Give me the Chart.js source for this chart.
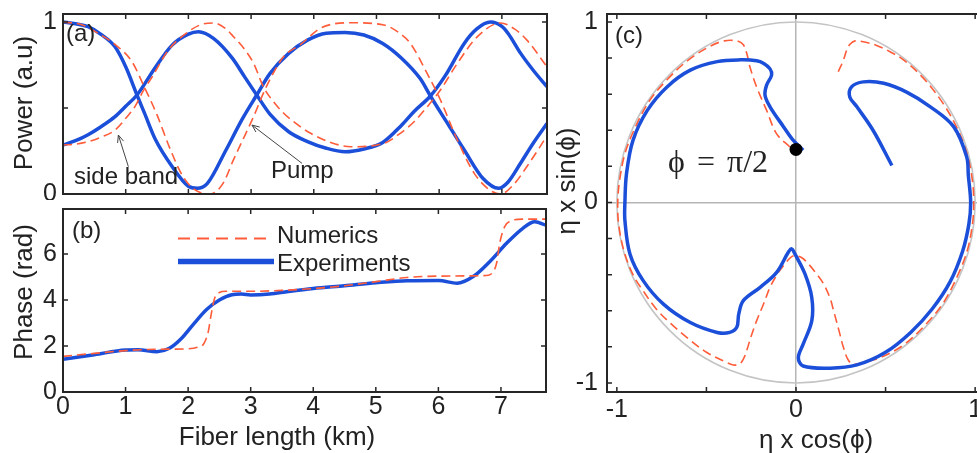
<!DOCTYPE html>
<html><head><meta charset="utf-8">
<script src="https://cdn.jsdelivr.net/npm/chart.js@4.4.1/dist/chart.umd.min.js"></script>
<style>
html,body{margin:0;padding:0;background:#fff;overflow:hidden;width:977px;height:453px;position:relative}
canvas{position:absolute}
#ca{left:0;top:0}
#cb{left:0;top:200px}
#cc{left:540px;top:0}
</style></head><body>
<canvas id="ca" width="560" height="200"></canvas>
<canvas id="cb" width="560" height="253"></canvas>
<canvas id="cc" width="460" height="453"></canvas>
<script>
// ---------- Panel (a): power vs fiber length ----------
const kmPumpExp = [0,0.2,0.4,0.6,0.83,1.0,1.18,1.3,1.47,1.74,2.0,2.14,2.3,2.6,2.85,3.09,3.3,3.6,3.9,4.2,4.5,4.8,5.1,5.4,5.7,5.86,6.1,6.4,6.7,6.95,7.1,7.3,7.5,7.72];
const pumpExp   = [1.0,0.99,0.973,0.93,0.856,0.74,0.576,0.47,0.32,0.16,0.045,0.033,0.06,0.256,0.43,0.576,0.70,0.818,0.895,0.935,0.94,0.925,0.876,0.79,0.67,0.57,0.43,0.256,0.09,0.033,0.07,0.18,0.295,0.41];
const kmSbExp = [0,0.2,0.4,0.6,0.83,1.0,1.18,1.47,1.74,2.0,2.16,2.4,2.7,2.9,3.09,3.3,3.6,3.9,4.2,4.5,4.8,5.1,5.4,5.6,5.86,6.1,6.4,6.6,6.82,7.0,7.1,7.3,7.5,7.72];
const sbExp   = [0.285,0.31,0.345,0.39,0.45,0.51,0.576,0.735,0.866,0.93,0.944,0.905,0.79,0.68,0.576,0.465,0.362,0.305,0.266,0.246,0.262,0.30,0.40,0.48,0.57,0.69,0.876,0.96,1.0,0.975,0.934,0.818,0.72,0.624];
const kmPumpNum = [0,0.3,0.56,0.83,1.1,1.3,1.5,1.7,1.9,2.1,2.35,2.55,2.72,2.9,3.04,3.2,3.35,3.52,3.79,4.11,4.59,5.12,5.35,5.54,5.81,6.02,6.29,6.56,6.8,6.98,7.2,7.4,7.6,7.72];
const pumpNum   = [1.0,0.985,0.934,0.87,0.77,0.62,0.46,0.27,0.11,0.025,0.0,0.06,0.2,0.34,0.45,0.59,0.7,0.8,0.87,0.965,0.996,0.983,0.94,0.876,0.70,0.547,0.314,0.12,0.025,0.0,0.06,0.16,0.27,0.34];
const kmSbNum = [0,0.2,0.4,0.6,0.83,1.0,1.15,1.28,1.42,1.68,2.0,2.2,2.4,2.6,2.72,2.9,3.04,3.2,3.35,3.52,3.79,3.95,4.27,4.59,5.12,5.38,5.6,5.81,6.02,6.29,6.61,6.98,7.2,7.4,7.72];
const sbNum   = [0.285,0.29,0.304,0.33,0.372,0.44,0.51,0.6,0.68,0.837,0.944,0.985,0.995,0.96,0.915,0.84,0.76,0.62,0.54,0.47,0.39,0.353,0.30,0.275,0.295,0.353,0.42,0.508,0.605,0.76,0.915,0.995,0.96,0.895,0.74];
const yTickLabelsA = [0, 1];
const yTickMarksA = [0, 0.5, 1];
const kmTickMarks = [0,1,2,3,4,5,6,7];

// ---------- Panel (b): phase vs fiber length ----------
const kmPhaseExp = [0,0.5,1.0,1.2,1.5,1.7,1.9,2.1,2.3,2.5,2.7,2.85,3.0,3.3,3.6,4.0,4.5,5.0,5.5,6.0,6.3,6.55,6.82,7.09,7.35,7.54,7.72];
const phaseExp   = [1.42,1.62,1.83,1.84,1.75,1.9,2.35,3.0,3.6,4.0,4.23,4.26,4.22,4.26,4.37,4.5,4.62,4.75,4.84,4.85,4.73,5.01,5.67,6.47,7.12,7.4,7.26];
const kmPhaseNum = [0,0.5,1.0,1.5,2.0,2.15,2.25,2.32,2.37,2.42,2.5,2.6,3.0,3.5,4.0,4.5,5.0,5.5,6.0,6.5,6.8,6.88,6.93,6.98,7.06,7.17,7.35,7.72];
const phaseNum   = [1.55,1.68,1.8,1.86,1.88,1.95,2.1,2.6,3.4,4.05,4.33,4.38,4.38,4.42,4.5,4.62,4.8,4.98,5.04,5.05,5.08,5.25,5.6,6.47,7.19,7.45,7.52,7.52];
const yTickLabelsB = [0,2,4,6];
const xTickLabelsB = [0,1,2,3,4,5,6,7];

// ---------- Panel (c): eta*cos(phi) vs eta*sin(phi) ----------
const expX = [0.04,-0.02,-0.07,-0.145,-0.173,-0.164,-0.136,-0.145,-0.18,-0.22,-0.31,-0.44,-0.59,-0.72,-0.83,-0.91,-0.946,-0.955,-0.955,-0.927,-0.853,-0.74,-0.59,-0.44,-0.37,-0.33,-0.32,-0.294,-0.2,-0.108,-0.043,-0.024,-0.006,0.05,0.088,0.088,0.04,0.013,0.04,0.19,0.34,0.5,0.64,0.76,0.86,0.93,0.965,0.975,0.962,0.953,0.88,0.75,0.62,0.49,0.376,0.31,0.30,0.34,0.43,0.535];
const expY = [0.29,0.35,0.42,0.53,0.594,0.65,0.706,0.74,0.77,0.785,0.79,0.78,0.733,0.64,0.51,0.344,0.16,0,-0.1,-0.285,-0.433,-0.563,-0.665,-0.72,-0.72,-0.69,-0.62,-0.544,-0.47,-0.387,-0.276,-0.257,-0.285,-0.396,-0.526,-0.656,-0.785,-0.86,-0.906,-0.918,-0.9,-0.83,-0.72,-0.59,-0.44,-0.27,-0.12,0,0.15,0.252,0.42,0.53,0.61,0.66,0.668,0.64,0.585,0.53,0.40,0.205];
const numX = [-0.034,-0.108,-0.164,-0.22,-0.257,-0.275,-0.295,-0.33,-0.40,-0.48,-0.60,-0.72,-0.82,-0.90,-0.955,-0.985,-0.995,-0.99,-0.96,-0.91,-0.853,-0.78,-0.70,-0.60,-0.5,-0.40,-0.35,-0.315,-0.29,-0.275,-0.25,-0.22,-0.18,-0.145,-0.1,-0.07,-0.03,-0.006,0.03,0.06,0.11,0.153,0.19,0.21,0.24,0.265,0.29,0.32,0.40,0.47,0.6,0.72,0.82,0.90,0.955,0.985,0.992,0.985,0.955,0.90,0.82,0.71,0.6,0.525,0.45,0.376,0.33,0.3,0.283,0.265,0.236];
const numY = [0.307,0.38,0.51,0.64,0.75,0.826,0.875,0.895,0.895,0.865,0.79,0.68,0.56,0.41,0.27,0.12,0,-0.12,-0.27,-0.40,-0.49,-0.59,-0.67,-0.755,-0.83,-0.88,-0.9,-0.895,-0.86,-0.82,-0.74,-0.656,-0.56,-0.47,-0.39,-0.35,-0.305,-0.294,-0.305,-0.33,-0.39,-0.45,-0.53,-0.6,-0.71,-0.804,-0.87,-0.896,-0.88,-0.86,-0.79,-0.68,-0.56,-0.41,-0.27,-0.12,0,0.12,0.27,0.41,0.55,0.69,0.79,0.835,0.87,0.89,0.895,0.875,0.844,0.79,0.724];
const dotX = [0.0];
const dotY = [0.294];
const xTickLabelsC = [-1,0,1];
const yTickLabelsC = [-1,0,1];
const xTickMarksC = [-1,-0.5,0,0.5,1];
const yTickMarksC = [-1,-0.8,-0.6,-0.4,-0.2,0,0.2,0.4,0.6,0.8,1];

// ---------- styling ----------
const FONT = "'Liberation Sans', Arial, sans-serif";
const SERIF = "'Liberation Serif', 'DejaVu Serif', serif";
const TXT = '#222';
const BLUE = '#1b4fd9';
const RED = '#ff5c3a';

function pts(xs, ys){ return xs.map((x,i)=>({x:x, y:ys[i]})); }
function txt(ctx, s, x, y, o){
  o = o || {};
  ctx.save();
  ctx.font = (o.size||24)+'px '+(o.family||FONT);
  ctx.fillStyle = TXT;
  ctx.textAlign = o.align||'left';
  ctx.textBaseline = o.baseline||'alphabetic';
  ctx.translate(x,y);
  if (o.rot) ctx.rotate(o.rot);
  ctx.fillText(s,0,0);
  ctx.restore();
}
function arrow(ctx, x1,y1,x2,y2){
  ctx.save();
  ctx.strokeStyle='#444'; ctx.lineWidth=1;
  ctx.beginPath(); ctx.moveTo(x1,y1); ctx.lineTo(x2,y2); ctx.stroke();
  const a=Math.atan2(y2-y1,x2-x1), L=8, w=0.4;
  ctx.beginPath();
  ctx.moveTo(x2-L*Math.cos(a-w), y2-L*Math.sin(a-w));
  ctx.lineTo(x2,y2);
  ctx.lineTo(x2-L*Math.cos(a+w), y2-L*Math.sin(a+w));
  ctx.stroke();
  ctx.restore();
}

const framePlugin = {
  id:'frame',
  afterDraw(chart, args, o){
    const ctx=chart.ctx, a=chart.chartArea, x=chart.scales.x, y=chart.scales.y;
    ctx.save();
    ctx.strokeStyle='#262626';
    ctx.lineWidth=1.5;
    const L=5;
    ctx.beginPath();
    (o.xTicks||[]).forEach(v=>{const p=x.getPixelForValue(v); ctx.moveTo(p,a.bottom); ctx.lineTo(p,a.bottom-L); ctx.moveTo(p,a.top); ctx.lineTo(p,a.top+L);});
    (o.yTicks||[]).forEach(v=>{const p=y.getPixelForValue(v); ctx.moveTo(a.left,p); ctx.lineTo(a.left+L,p); ctx.moveTo(a.right,p); ctx.lineTo(a.right-L,p);});
    ctx.stroke();
    ctx.lineWidth=2;
    ctx.strokeRect(a.left,a.top,a.right-a.left,a.bottom-a.top);
    ctx.restore();
  }
};

function lin(min,max,labels,o){
  o=o||{};
  return {
    type:'linear', min:min, max:max,
    grid:{display:!!o.grid, drawTicks:false, color:o.grid||'rgba(0,0,0,0)', lineWidth:1.5},
    border:{display:false},
    ticks:{display:o.show!==false, font:{family:FONT,size:25,lineHeight:1.2}, color:TXT, padding:o.pad||0, callback:v=>String(v)},
    afterBuildTicks(s){ s.ticks = labels.map(v=>({value:v})); },
    afterFit(s){
      if(o.w!==undefined) s.width=o.w;
      if(o.h!==undefined) s.height=o.h;
      s.paddingTop=0; s.paddingBottom=0; s.paddingLeft=0; s.paddingRight=0;
    }
  };
}
const common = {responsive:false, animation:false, events:[], plugins:{legend:{display:false}, tooltip:{enabled:false}}};
const solid = (data)=>({data:data, showLine:true, borderColor:BLUE, borderWidth:3.5, pointRadius:0, fill:false});
const dashed = (data)=>({data:data, showLine:true, borderColor:RED, borderWidth:1.6, borderDash:[9,5], pointRadius:0, fill:false});

// ---------- chart (a) ----------
const annA = {
  id:'annA',
  afterDraw(chart){
    const ctx=chart.ctx, x=chart.scales.x, y=chart.scales.y;
    txt(ctx,'Power (a.u)',25,103,{size:26,align:'center',baseline:'middle',rot:-Math.PI/2});
    txt(ctx,'(a)',66,34,{size:24,baseline:'middle'});
    txt(ctx,'side band',74,184,{size:24});
    txt(ctx,'Pump',271,178,{size:24});
    arrow(ctx,x.getPixelForValue(1.043),y.getPixelForValue(0.159),x.getPixelForValue(0.883),y.getPixelForValue(0.343));
    arrow(ctx,x.getPixelForValue(3.813),y.getPixelForValue(0.178),x.getPixelForValue(3.014),y.getPixelForValue(0.401));
  }
};
const dA = (k,v)=>Object.assign(solid(pts(k,v)),{cubicInterpolationMode:'monotone'});
const rA = (k,v)=>Object.assign(dashed(pts(k,v)),{cubicInterpolationMode:'monotone'});
new Chart(document.getElementById('ca'), {
  type:'scatter',
  data:{datasets:[rA(kmPumpNum,pumpNum), rA(kmSbNum,sbNum), dA(kmPumpExp,pumpExp), dA(kmSbExp,sbExp)]},
  options:Object.assign({}, common, {
    layout:{padding:{top:14,right:13,bottom:0,left:0}},
    scales:{x:lin(0,7.72,[],{show:false,h:6}), y:lin(0,1.047,yTickLabelsA,{pad:6,w:63})},
    plugins:Object.assign({}, common.plugins, {frame:{xTicks:kmTickMarks,yTicks:yTickMarksA}})
  }),
  plugins:[framePlugin, annA]
});

// ---------- chart (b) ----------
const annB = {
  id:'annB',
  afterDraw(chart){
    const ctx=chart.ctx;
    txt(ctx,'Phase (rad)',25,92,{size:26,align:'center',baseline:'middle',rot:-Math.PI/2});
    txt(ctx,'Fiber length (km)',277,238,{size:26,align:'center',baseline:'middle'});
    txt(ctx,'(b)',72,31,{size:24,baseline:'middle'});
    ctx.save();
    ctx.strokeStyle=RED; ctx.lineWidth=1.8; ctx.setLineDash([12,7]);
    ctx.beginPath(); ctx.moveTo(178,38.5); ctx.lineTo(273,38.5); ctx.stroke();
    ctx.setLineDash([]); ctx.strokeStyle=BLUE; ctx.lineWidth=5.5;
    ctx.beginPath(); ctx.moveTo(178,61.5); ctx.lineTo(274,61.5); ctx.stroke();
    ctx.restore();
    txt(ctx,'Numerics',277,42.5,{size:24});
    txt(ctx,'Experiments',277,70.5,{size:24});
  }
};
new Chart(document.getElementById('cb'), {
  type:'scatter',
  data:{datasets:[rA(kmPhaseNum,phaseNum), dA(kmPhaseExp,phaseExp)]},
  options:Object.assign({}, common, {
    layout:{padding:{top:9,right:14,bottom:0,left:0}},
    scales:{x:lin(0,7.72,xTickLabelsB,{pad:0,h:61}), y:lin(0,7.96,yTickLabelsB,{pad:6,w:63})},
    plugins:Object.assign({}, common.plugins, {frame:{xTicks:kmTickMarks,yTicks:yTickLabelsB}})
  }),
  plugins:[framePlugin, annB]
});

// ---------- chart (c) ----------
const zeroGrid = (ctx)=> (ctx.tick && ctx.tick.value===0) ? '#b5b5b5' : 'rgba(0,0,0,0)';
const circleC = {
  id:'circleC',
  beforeDatasetsDraw(chart){
    const ctx=chart.ctx, x=chart.scales.x, y=chart.scales.y;
    const cx=x.getPixelForValue(0), cy=y.getPixelForValue(0);
    const rx=x.getPixelForValue(1)-cx, ry=cy-y.getPixelForValue(1);
    ctx.save(); ctx.strokeStyle='#c4c4c4'; ctx.lineWidth=1.6;
    ctx.beginPath(); ctx.ellipse(cx,cy,rx,ry,0,0,Math.PI*2); ctx.stroke(); ctx.restore();
  },
  afterDraw(chart){
    const ctx=chart.ctx;
    txt(ctx,'\u03b7 x sin(\u03d5)',28,181,{size:26,align:'center',baseline:'middle',rot:-Math.PI/2});
    txt(ctx,'\u03b7 x cos(\u03d5)',276,441,{size:26,align:'center',baseline:'middle'});
    txt(ctx,'(c)',75,36,{size:24,baseline:'middle'});
    txt(ctx,'\u03d5',128,172,{size:32,family:SERIF});
    txt(ctx,'=',157,172,{size:32,family:SERIF});
    txt(ctx,'\u03c0/2',187,172,{size:32,family:SERIF});
  }
};
const xC = lin(-1.055,1.055,xTickLabelsC,{pad:3,h:61,grid:zeroGrid});
const yC = lin(-1.05,1.044,yTickLabelsC,{pad:9,w:67,grid:zeroGrid});
new Chart(document.getElementById('cc'), {
  type:'scatter',
  data:{datasets:[
    {data:pts(dotX,dotY), showLine:false, pointRadius:6.5, pointBackgroundColor:'#000', pointBorderColor:'#000', pointBorderWidth:0},
    Object.assign(solid(pts(expX,expY)),{tension:0.35}),
    Object.assign(dashed(pts(numX,numY)),{tension:0.35})
  ]},
  options:Object.assign({}, common, {
    layout:{padding:{top:14,right:15,bottom:0,left:0}},
    scales:{x:xC, y:yC},
    plugins:Object.assign({}, common.plugins, {frame:{xTicks:xTickMarksC,yTicks:yTickMarksC}})
  }),
  plugins:[framePlugin, circleC]
});
</script></body></html>
